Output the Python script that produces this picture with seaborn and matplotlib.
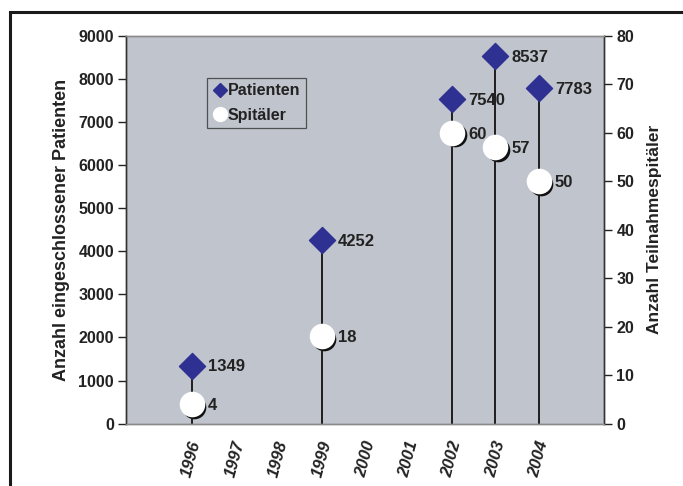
import matplotlib
matplotlib.use("Agg")
import matplotlib.pyplot as plt
import matplotlib.patches as mpatches
from matplotlib.lines import Line2D
from matplotlib.transforms import offset_copy
import seaborn as sns
import pandas as pd

# Study years and counts
years = [1996, 1999, 2002, 2003, 2004]
patients = [1349, 4252, 7540, 8537, 7783]
hospitals = [4, 18, 60, 57, 50]
tick_years = [1996, 1997, 1998, 1999, 2000, 2001, 2002, 2003, 2004]

df = pd.DataFrame({"Jahr": years, "Patienten": patients, "Spitäler": hospitals})

sns.set_style("white")
plt.rcParams["font.family"] = ["Liberation Sans", "DejaVu Sans"]
plt.rcParams["font.weight"] = "bold"

BG = "#C0C4CC"
NAVY = "#2E3192"
INK = "#222222"

fig = plt.figure(figsize=(6.83, 4.86), dpi=100)
ax = fig.add_axes([0.1852, 0.1282, 0.8843 - 0.1852, 0.9265 - 0.1282])
ax.set_facecolor(BG)
ax2 = ax.twinx()

# outer frame around the chart
frame = mpatches.Rectangle((10 / 683, -0.2), 1.2, 0.9753 + 0.2, transform=fig.transFigure,
                           fill=False, edgecolor="#1a1a1a", linewidth=2.2, zorder=0)
fig.patches.append(frame)

# stems from zero up to the patient count
ax.vlines(df["Jahr"], 0, df["Patienten"], color="#111111", linewidth=1.3, zorder=2)

sns.scatterplot(data=df, x="Jahr", y="Patienten", ax=ax, marker="D", s=175,
                color=NAVY, edgecolor=NAVY, zorder=4, legend=False)

# shadow behind the white circles
shadow = offset_copy(ax2.transData, fig=fig, x=1.8, y=-1.8, units="points")
ax2.scatter(df["Jahr"], df["Spitäler"], s=290, color="#111111", transform=shadow,
            zorder=3, linewidths=0)
sns.scatterplot(data=df, x="Jahr", y="Spitäler", ax=ax2, marker="o", s=290,
                color="white", edgecolor="white", zorder=5, legend=False)

for x, y in zip(years, patients):
    ax.annotate(f"{y}", (x, y), xytext=(11.5, -1), textcoords="offset points",
                ha="left", va="center", fontsize=12, fontweight="bold", color=INK)
for x, y in zip(years, hospitals):
    ax2.annotate(f"{y}", (x, y), xytext=(11.5, -1), textcoords="offset points",
                 ha="left", va="center", fontsize=12, fontweight="bold", color=INK)

ax.set_xlim(1994.5, 2005.5)
ax.set_ylim(0, 9000)
ax2.set_ylim(0, 80)
ax.set_yticks(range(0, 9001, 1000))
ax2.set_yticks(range(0, 81, 10))
ax.set_xticks(tick_years)
ax.set_xticklabels([str(t) for t in tick_years], rotation=75, fontstyle="italic",
                   fontweight="bold", fontsize=12, ha="center", va="top", color=INK)
ax.tick_params(axis="x", length=0, pad=11)
ax.tick_params(axis="y", direction="out", length=6, width=1, color=INK,
               labelsize=11.5, labelcolor=INK, pad=3)
ax2.tick_params(axis="y", direction="out", length=6, width=1, color=INK,
                labelsize=11.5, labelcolor=INK, pad=3)
for lab in ax.get_yticklabels() + ax2.get_yticklabels():
    lab.set_fontweight("bold")

ax.set_xlabel("")
ax.set_ylabel("Anzahl eingeschlossener Patienten", fontsize=13, fontweight="bold",
              labelpad=6, color=INK)
ax2.set_ylabel("Anzahl Teilnahmespitäler", fontsize=12.5, fontweight="bold",
               labelpad=9, color=INK)

for a in (ax, ax2):
    a.spines["top"].set_color("#8a8a8a")
    a.spines["bottom"].set_color("#8a8a8a")
    a.spines["left"].set_color("#333333")
    a.spines["right"].set_color("#333333")
    for s in a.spines.values():
        s.set_linewidth(1.0)
        s.set_visible(True)

handles = [
    Line2D([], [], marker="D", linestyle="none", markersize=7, color=NAVY, label="Patienten"),
    Line2D([], [], marker="o", linestyle="none", markersize=10, markerfacecolor="white",
           markeredgecolor="white", label="Spitäler"),
]
leg = ax2.legend(handles=handles, loc="upper left", bbox_to_anchor=(0.168, 0.892),
                 frameon=True, fancybox=False, facecolor=BG, edgecolor="#333333",
                 prop={"weight": "bold", "size": 11.5}, handletextpad=0.0,
                 handlelength=0.95, borderpad=0.35, labelspacing=0.6, borderaxespad=0)
leg.get_frame().set_linewidth(0.9)
for t in leg.get_texts():
    t.set_color(INK)

fig.savefig("out.png", dpi=100)
